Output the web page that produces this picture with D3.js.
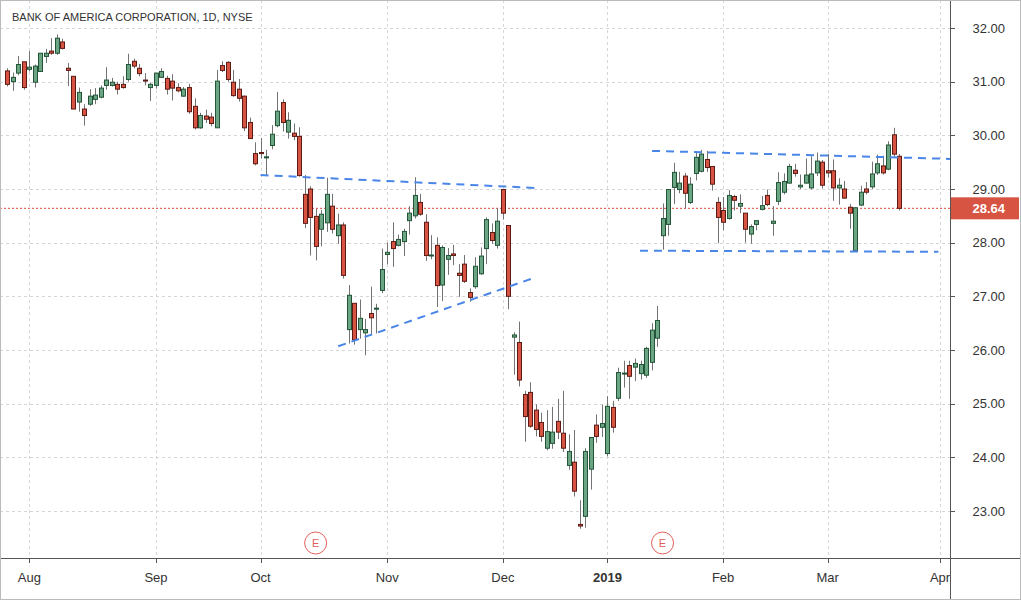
<!DOCTYPE html>
<html>
<head>
<meta charset="utf-8">
<script src="https://cdn.jsdelivr.net/npm/d3@7"></script>
<style>
  body { margin: 0; background: #fff; }
  svg { display: block; font-family: "Liberation Sans", Arial, sans-serif; }
</style>
</head>
<body>
<div id="chart"></div>
<script>
// --- Data (daily OHLC, one value per trading day) ---
const opens = [31.20,31.00,31.16,31.37,31.23,30.99,31.19,31.47,31.57,31.53,31.74,31.25,31.10,30.62,30.49,30.58,30.67,30.71,30.93,30.93,
  30.95,30.95,31.04,31.38,31.25,31.03,30.89,30.93,31.08,31.06,31.01,30.89,30.73,30.89,30.54,30.14,30.36,30.34,30.14,31.30,
  31.36,30.99,30.86,30.73,30.24,29.66,29.68,29.58,29.81,30.18,30.61,30.06,30.04,29.98,28.90,29.00,28.49,28.25,28.37,28.68,
  28.13,28.33,26.38,26.87,26.38,26.32,26.68,26.76,27.11,27.78,28.02,27.95,28.02,28.41,28.50,28.75,28.38,27.76,27.95,27.21,
  27.69,27.79,27.43,27.60,27.07,27.18,27.42,27.89,28.19,27.95,28.99,28.32,26.24,26.14,25.17,25.21,24.88,24.65,24.17,24.26,
  24.67,24.45,23.85,23.91,22.75,22.90,23.78,24.60,24.56,24.07,24.93,25.10,25.56,25.71,25.68,25.56,25.53,25.77,26.22,28.13,
  28.34,29.03,28.99,29.24,28.75,29.29,29.33,29.55,29.42,28.75,28.60,28.45,28.86,28.68,28.55,28.16,28.34,28.62,28.88,28.36,
  28.77,28.94,29.11,29.35,29.04,29.11,29.02,29.30,29.50,29.34,29.34,29.02,29.00,28.66,27.85,28.70,29.00,29.04,29.30,29.43,
  29.37,30.01,29.61];
const highs = [31.25,31.17,31.48,31.37,31.57,31.32,31.53,31.61,31.81,31.88,31.80,31.35,31.10,30.89,30.58,30.86,30.88,30.93,31.27,31.07,
  31.00,31.10,31.52,31.43,31.33,31.16,30.98,31.16,31.25,31.11,31.14,30.97,30.90,30.96,30.69,30.42,30.48,30.42,31.22,31.38,
  31.38,31.22,31.05,30.74,30.33,29.87,29.95,29.73,30.19,30.81,30.67,30.43,30.22,30.15,29.26,29.05,28.63,28.61,29.21,28.91,
  28.54,28.38,27.21,26.87,26.94,26.58,27.18,26.86,27.89,28.00,28.38,28.15,28.26,28.68,29.22,28.91,28.53,28.14,28.10,27.95,
  27.90,27.96,27.60,27.77,27.15,27.73,27.91,28.47,28.36,28.64,28.99,28.32,26.33,26.53,25.24,25.40,24.99,24.83,24.88,24.94,
  25.09,25.24,24.43,24.51,23.20,24.17,24.37,24.80,24.98,25.14,25.05,25.67,25.80,25.80,25.84,25.80,26.06,26.50,26.82,28.73,
  29.00,29.49,29.32,29.30,29.22,29.70,29.73,29.71,29.42,28.85,28.85,28.98,28.89,28.90,28.55,28.34,28.41,28.87,28.99,28.68,
  29.31,29.29,29.47,29.47,29.27,29.57,29.61,29.68,29.54,29.65,29.55,29.20,29.15,28.72,28.66,29.06,29.13,29.51,29.64,29.62,
  29.89,30.14,29.65];
const lows = [30.91,30.83,31.12,30.85,31.19,30.89,31.18,31.35,31.50,31.50,31.60,30.92,30.49,30.44,30.18,30.55,30.58,30.69,30.85,30.91,
  30.76,30.87,31.00,31.25,31.10,30.93,30.64,30.87,31.07,30.76,30.65,30.80,30.72,30.40,30.11,30.12,30.23,30.17,30.14,31.18,
  31.00,30.72,30.63,30.08,29.94,29.44,29.57,29.26,29.74,30.15,30.07,29.94,29.91,29.23,28.27,27.76,27.67,27.93,28.20,28.17,
  27.98,27.33,26.12,26.10,26.21,25.90,26.28,26.31,27.06,27.60,27.55,27.93,27.75,28.15,28.45,28.50,27.66,27.69,26.80,26.91,
  27.40,27.58,26.99,27.25,26.90,27.14,27.40,27.60,27.98,27.89,28.43,26.76,25.54,25.32,24.29,24.55,24.39,24.29,24.13,24.16,
  24.34,24.10,23.77,23.27,22.67,22.69,23.40,24.27,24.38,24.02,24.46,25.05,25.30,25.09,25.42,25.45,25.48,25.62,26.06,27.87,
  28.13,28.72,28.92,28.64,28.72,29.16,29.31,29.32,28.97,27.99,28.23,28.43,28.60,28.55,28.00,27.98,28.23,28.60,28.68,28.13,
  28.70,28.90,29.10,29.23,29.00,29.10,28.99,29.24,29.01,29.21,28.78,28.71,28.82,28.26,27.83,28.68,28.90,29.00,29.26,29.27,
  29.35,29.60,28.60];
const closes = [30.95,31.08,31.32,30.89,31.27,31.29,31.53,31.53,31.53,31.81,31.62,31.21,30.49,30.80,30.37,30.73,30.75,30.88,31.03,30.99,
  30.86,30.89,31.32,31.29,31.15,31.02,30.95,31.16,31.19,30.86,30.88,30.83,30.86,30.44,30.14,30.37,30.30,30.22,31.01,31.21,
  31.04,30.74,30.69,30.14,29.94,29.47,29.66,29.60,30.02,30.45,30.24,30.28,29.98,29.25,28.36,28.47,27.93,28.53,28.90,28.25,
  28.33,27.39,27.02,26.19,26.59,26.38,26.60,26.78,27.50,27.82,27.89,28.06,28.21,28.55,28.88,28.53,27.76,27.77,27.20,27.91,
  27.76,27.76,27.39,27.28,26.98,27.56,27.75,28.43,28.04,28.40,28.55,27.00,26.28,25.44,24.76,24.58,24.52,24.39,24.48,24.47,
  24.47,24.17,24.11,23.37,22.72,24.11,24.37,24.39,24.63,24.95,24.56,25.58,25.57,25.51,25.75,25.73,26.03,26.37,26.55,28.45,
  28.99,29.31,29.11,28.92,29.09,29.59,29.65,29.40,29.09,28.47,28.38,28.88,28.79,28.73,28.25,28.30,28.41,28.69,28.71,28.40,
  29.12,29.14,29.42,29.29,29.07,29.26,29.28,29.52,29.07,29.30,29.02,29.07,28.83,28.55,28.65,28.94,28.94,29.28,29.47,29.30,
  29.82,29.65,28.64];

// Month labels at the bar index of each month's first trading day
const monthLabels = ["Aug", "Sep", "Oct", "Nov", "Dec", "2019", "Feb", "Mar", "Apr"];
const monthIndex = [4, 27, 46, 69, 90, 109, 130, 149, 169.4];
const priceTicks = [23, 24, 25, 26, 27, 28, 29, 30, 31, 32];
const lastPrice = 28.64;
const earningsIndex = [56, 119];
// Drawn trend lines: [index, price] pairs
const trendLines = [
  [[46.0, 29.26], [95.8, 29.02]],
  [[60.1, 26.07], [95.8, 27.35]],
  [[117.1, 29.71], [171.6, 29.56]],
  [[114.9, 27.85], [169.1, 27.83]]
];

const W = 1021, H = 600, plotW = 950, plotH = 558;
const candles = opens.map((o, i) => ({ i, o, h: highs[i], l: lows[i], c: closes[i] }));

const x = d3.scaleLinear().domain([0, candles.length - 1]).range([7.3, 899.3]);
const y = d3.scaleLinear().domain([32, 23]).range([28, 511]);

const svg = d3.select("#chart").append("svg").attr("width", W).attr("height", H);

svg.append("defs").append("clipPath").attr("id", "plot")
  .append("rect").attr("width", plotW).attr("height", plotH);

// grid
const grid = svg.append("g").attr("clip-path", "url(#plot)");
grid.selectAll(".hg").data(priceTicks).join("line")
  .attr("x1", 0).attr("x2", plotW)
  .attr("y1", d => Math.round(y(d)) + 0.5).attr("y2", d => Math.round(y(d)) + 0.5)
  .attr("stroke", "#d6d6d6").attr("stroke-dasharray", "3,3");
grid.selectAll(".vg").data(monthIndex).join("line")
  .attr("y1", 0).attr("y2", plotH)
  .attr("x1", d => Math.round(x(d)) + 0.5).attr("x2", d => Math.round(x(d)) + 0.5)
  .attr("stroke", "#d6d6d6").attr("stroke-dasharray", "3,3");

// last price line
grid.append("line")
  .attr("x1", 0).attr("x2", plotW).attr("y1", y(lastPrice)).attr("y2", y(lastPrice))
  .attr("stroke", "#e0463a").attr("stroke-dasharray", "2,2");

// candles
const cg = svg.append("g").attr("clip-path", "url(#plot)");
cg.selectAll(".wick").data(candles).join("line")
  .attr("x1", d => Math.round(x(d.i)) + 0.5).attr("x2", d => Math.round(x(d.i)) + 0.5)
  .attr("y1", d => y(d.h)).attr("y2", d => y(d.l))
  .attr("stroke", "#737373");
cg.selectAll(".body").data(candles).join("rect")
  .attr("x", d => Math.round(x(d.i)) - 1.5)
  .attr("width", 4)
  .attr("y", d => y(Math.max(d.o, d.c)))
  .attr("height", d => Math.max(1, Math.abs(y(d.o) - y(d.c))))
  .attr("fill", d => d.c >= d.o ? "#6ba583" : "#d75442")
  .attr("stroke", d => d.c >= d.o ? "#225437" : "#5b1a13");

// trend lines
cg.selectAll(".trend").data(trendLines).join("line")
  .attr("x1", d => x(d[0][0])).attr("y1", d => y(d[0][1]))
  .attr("x2", d => x(d[1][0])).attr("y2", d => y(d[1][1]))
  .attr("stroke", "#4a86e8").attr("stroke-width", 2).attr("stroke-dasharray", "8,6");

// earnings markers
const eg = svg.selectAll(".earn").data(earningsIndex).join("g")
  .attr("transform", d => `translate(${x(d)},543)`);
eg.append("circle").attr("r", 11).attr("fill", "#fff").attr("stroke", "#e0605a");
eg.append("text").attr("text-anchor", "middle").attr("dy", "0.35em")
  .attr("font-size", 11).attr("fill", "#e0605a").text("E");

// axes frame
svg.append("line").attr("x1", plotW + 0.5).attr("x2", plotW + 0.5).attr("y1", 0).attr("y2", H)
  .attr("stroke", "#555");
svg.append("line").attr("x1", 0).attr("x2", W).attr("y1", plotH + 0.5).attr("y2", plotH + 0.5)
  .attr("stroke", "#555");
svg.append("rect").attr("x", 0.5).attr("y", 0.5).attr("width", W - 1).attr("height", H - 1)
  .attr("fill", "none").attr("stroke", "#bbb");

// price axis
const ra = svg.append("g");
ra.selectAll("line").data(priceTicks).join("line")
  .attr("x1", plotW).attr("x2", plotW + 5)
  .attr("y1", d => Math.round(y(d)) + 0.5).attr("y2", d => Math.round(y(d)) + 0.5)
  .attr("stroke", "#555");
ra.selectAll("text").data(priceTicks).join("text")
  .attr("x", 1005).attr("y", d => y(d)).attr("dy", "0.35em")
  .attr("text-anchor", "end").attr("font-size", 13).attr("fill", "#333")
  .text(d => d.toFixed(2));

// last price tag
svg.append("rect").attr("x", plotW + 1).attr("y", y(lastPrice) - 11).attr("width", 68).attr("height", 22)
  .attr("fill", "#d75442");
svg.append("text").attr("x", 1005).attr("y", y(lastPrice)).attr("dy", "0.35em")
  .attr("text-anchor", "end").attr("font-size", 13).attr("font-weight", "bold").attr("fill", "#fff")
  .text(lastPrice.toFixed(2));

// time axis
const ta = svg.append("g");
ta.selectAll("line").data(monthIndex).join("line")
  .attr("x1", d => Math.round(x(d)) + 0.5).attr("x2", d => Math.round(x(d)) + 0.5)
  .attr("y1", plotH).attr("y2", plotH + 5).attr("stroke", "#555");
ta.selectAll("text").data(monthLabels).join("text")
  .attr("x", (d, i) => x(monthIndex[i])).attr("y", 582)
  .attr("text-anchor", "middle").attr("font-size", 13).attr("fill", "#333")
  .attr("font-weight", d => d === "2019" ? "bold" : "normal")
  .text(d => d);

// title
svg.append("text").attr("x", 12).attr("y", 21).attr("font-size", 11).attr("fill", "#333")
  .text("BANK OF AMERICA CORPORATION, 1D, NYSE");
</script>
</body>
</html>
